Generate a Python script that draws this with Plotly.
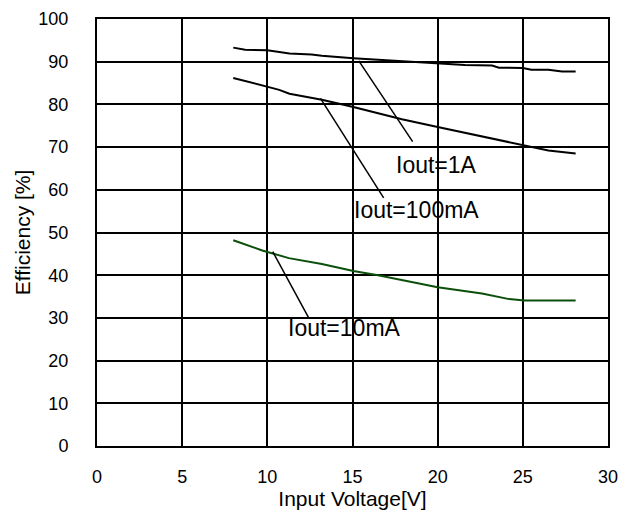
import plotly.graph_objects as go

# Data
v_1a = [8.0, 8.7, 10.0, 11.3, 12.6, 13.2, 15.05, 17.5, 20.0, 21.6, 23.2, 23.6, 25.0, 25.5, 26.5, 27.3, 28.1]
eff_1a = [93.3, 92.8, 92.7, 91.9, 91.7, 91.4, 90.8, 90.2, 89.7, 89.2, 89.1, 88.6, 88.5, 88.1, 88.1, 87.7, 87.7]

v_100ma = [8.0, 10.0, 10.7, 11.3, 13.2, 15.05, 16.3, 17.9, 20.0, 23.0, 25.0, 26.5, 28.1]
eff_100ma = [86.2, 84.1, 83.4, 82.5, 81.1, 79.4, 78.2, 76.5, 74.7, 72.2, 70.5, 69.2, 68.5]

v_10ma = [8.0, 9.7, 11.26, 13.2, 15.05, 16.5, 20.0, 22.6, 24.2, 25.1, 28.1]
eff_10ma = [48.2, 45.8, 44.0, 42.6, 41.0, 40.0, 37.2, 35.7, 34.4, 34.1, 34.1]

x_ticks = [0, 5, 10, 15, 20, 25, 30]
y_ticks = [0, 10, 20, 30, 40, 50, 60, 70, 80, 90, 100]

# Callout labels: (text, point on curve x, y, leader end x, y, text x, y)
callouts = [
    ("Iout=1A", 15.37, 90.2, 18.53, 71.3, 19.94, 65.9),
    ("Iout=100mA", 13.12, 81.4, 16.83, 58.1, 18.77, 55.3),
    ("Iout=10mA", 10.32, 45.5, 12.43, 30.0, 14.53, 27.6),
]

FONT = "Liberation Sans, Arial, Helvetica, sans-serif"
GREEN = "#0a4f0a"

fig = go.Figure()
fig.add_trace(go.Scatter(x=v_1a, y=eff_1a, mode="lines",
                         line=dict(color="black", width=2), showlegend=False))
fig.add_trace(go.Scatter(x=v_100ma, y=eff_100ma, mode="lines",
                         line=dict(color="black", width=2), showlegend=False))
fig.add_trace(go.Scatter(x=v_10ma, y=eff_10ma, mode="lines",
                         line=dict(color=GREEN, width=2), showlegend=False))

for text, x0, y0, x1, y1, tx, ty in callouts:
    fig.add_shape(type="line", xref="x", yref="y", x0=x0, y0=y0, x1=x1, y1=y1,
                  line=dict(color="black", width=1.5))
    fig.add_annotation(x=tx, y=ty, xref="x", yref="y", text=text, showarrow=False,
                       font=dict(family=FONT, size=23, color="black"))

axis_common = dict(
    showgrid=True, gridcolor="black", gridwidth=2,
    showline=True, linecolor="black", linewidth=2, mirror=True,
    zeroline=False, ticks="", automargin=False,
    tickfont=dict(family=FONT, size=18, color="black"),
    title_font=dict(family=FONT, size=21, color="black"),
)

fig.update_xaxes(range=[0, 30], tickvals=x_ticks,
                 title_text="Input Voltage[V]", ticklabelstandoff=13,
                 title_standoff=0, **axis_common)
fig.update_yaxes(range=[0, 100], tickvals=y_ticks,
                 title_text="Efficiency [%]", ticklabelstandoff=23,
                 title_standoff=2, **axis_common)

fig.update_layout(
    width=635, height=519,
    margin=dict(l=97, r=27, t=19, b=73),
    plot_bgcolor="white", paper_bgcolor="white",
    font=dict(family=FONT, color="black"),
)

fig.write_html("out.html", config={"displayModeBar": False},
               post_script="document.body.style.margin='0px';")
